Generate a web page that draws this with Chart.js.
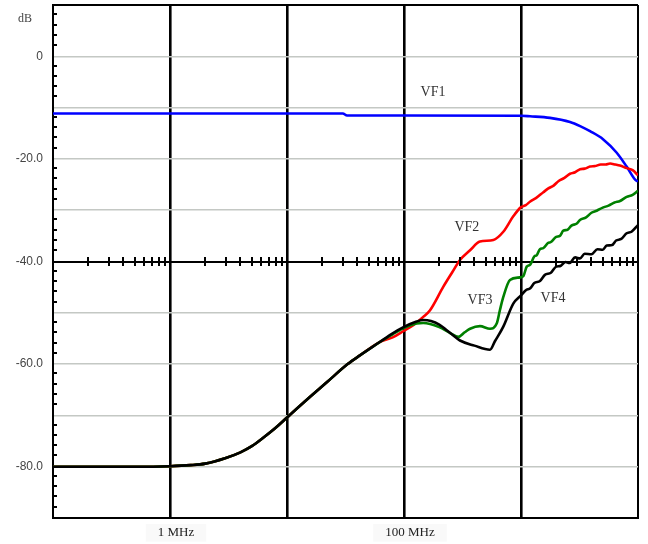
<!DOCTYPE html>
<html>
<head>
<meta charset="utf-8">
<script src="https://cdn.jsdelivr.net/npm/chart.js@4.4.1/dist/chart.umd.min.js"></script>
<style>
  html, body { margin: 0; padding: 0; background: #fff; }
  #wrap { width: 648px; height: 544px; position: relative; }
</style>
</head>
<body>
<div id="wrap"><canvas id="vfChart"></canvas></div>
<script>
// --- 데이터 (주파수 MHz / 감쇠 dB) ---
// 세 곡선(VF2~VF4)이 겹치는 저주파 구간
const lowFreq = [0.1, 0.5, 1.0, 1.5, 2.0, 3.0, 4.0, 5.0, 6.3, 8.0, 10, 15, 22, 33, 42, 62];
const lowDb   = [-80.0, -80.0, -79.9, -79.7, -79.4, -78.3, -77.2, -76.0, -74.3, -72.4, -70.4, -66.8, -63.5, -60.0, -58.3, -55.7];

const vf1Freq = [0.1, 1, 10, 30, 32.6, 100, 1000, 1194, 1770, 2624, 3200, 3890, 5050, 6580, 8000, 9500, 10000];
const vf1Db   = [-11.15, -11.15, -11.15, -11.15, -11.54, -11.54, -11.6, -11.7, -12.0, -12.8, -13.6, -14.6, -16.2, -18.8, -21.5, -24.1, -24.4];

const vf2Freq = [80, 100, 120, 146, 167, 217, 260, 301, 367, 446, 580, 706, 859, 1000, 1100, 1200, 1350, 1552, 1700, 1900, 2100, 2350, 2624, 2900, 3200, 3500, 3890, 4300, 4800, 5300, 5766, 6400, 7000, 8000, 9000, 10000];
const vf2Db   = [-54.8, -53.5, -52.4, -50.8, -49.5, -44.9, -42.0, -39.7, -37.8, -36.1, -35.8, -34.2, -31.2, -29.4, -29.0, -28.3, -27.6, -26.5, -25.8, -25.2, -24.3, -23.7, -22.9, -22.6, -22.0, -21.9, -21.5, -21.4, -21.1, -21.1, -20.9, -21.1, -21.3, -21.8, -22.2, -23.2];

const vf3Freq = [80, 99, 128, 146, 200, 250, 291, 330, 367, 446, 543, 620, 660, 706, 805, 980, 1050, 1119, 1200, 1300, 1361, 1450, 1550, 1700, 1800, 2000, 2150, 2300, 2500, 2700, 3000, 3192, 3600, 4000, 4437, 5000, 5600, 6300, 7017, 8000, 9000, 10000];
const vf3Db   = [-54.2, -53.0, -52.1, -52.0, -52.8, -54.0, -54.7, -53.8, -53.1, -52.6, -53.1, -52.1, -49.5, -46.9, -43.6, -43.1, -42.8, -41.0, -40.6, -39.0, -38.8, -37.6, -37.4, -36.4, -36.2, -35.2, -35.0, -34.0, -33.8, -33.0, -32.6, -31.9, -31.4, -30.5, -30.1, -29.5, -29.1, -28.5, -28.2, -27.4, -27.0, -26.2];

const vf4Freq = [80, 99, 128, 146, 170, 200, 250, 301, 400, 543, 600, 706, 859, 1000, 1100, 1200, 1300, 1452, 1600, 1800, 2000, 2154, 2400, 2600, 2900, 3192, 3500, 4000, 4500, 5000, 5400, 6000, 6500, 7200, 8000, 8800, 10000];
const vf4Db   = [-54.0, -52.8, -51.7, -51.4, -51.6, -52.3, -54.0, -55.4, -56.4, -57.2, -55.5, -52.7, -48.2, -46.6, -45.6, -45.2, -44.2, -43.8, -42.6, -42.2, -41.0, -40.9, -40.1, -40.3, -39.2, -39.4, -38.5, -38.6, -37.6, -37.7, -36.9, -36.8, -35.9, -35.6, -34.5, -34.2, -32.9];

// 곡선 이름 위치 (MHz, dB)
const curveLabels = [
    { text: "VF1", x: 177, y: -7.0 },
    { text: "VF2", x: 345, y: -33.3 },
    { text: "VF3", x: 446, y: -47.5 },
    { text: "VF4", x: 1879, y: -47.1 }
];

const yTickLabels = { "0": "0", "-20": "-20.0", "-40": "-40.0", "-60": "-60.0", "-80": "-80.0" };
const xTickLabels = { "1": "1 MHz", "100": "100 MHz" };
const decades = [0.1, 1, 10, 100, 1000, 10000];

// --- 헬퍼 ---
function toPoints(freq, db) {
    return freq.map((f, i) => ({ x: f, y: db[i] }));
}

// 저주파 공통 구간 + 개별 구간
function withLow(freq, db) {
    return toPoints(lowFreq, lowDb).concat(toPoints(freq, db));
}

// 보조 눈금, 곡선 이름, dB 표시
const overlay = {
    id: 'overlay',
    afterDatasetsDraw(chart) {
        const ctx = chart.ctx;
        const xs = chart.scales.x;
        const ys = chart.scales.y;
        const area = chart.chartArea;
        ctx.save();
        ctx.fillStyle = '#000';
        // 왼쪽 축 보조 눈금 (2 dB)
        for (let v = -88; v < 10; v += 2) {
            if (v % 10 === 0) continue;
            const py = Math.round(ys.getPixelForValue(v));
            ctx.fillRect(area.left, py - 2, 4, 2);
        }
        // -40 dB 축 위 로그 눈금
        const axisY = ys.getPixelForValue(-40);
        for (let d = 0; d < decades.length - 1; d++) {
            for (let m = 2; m <= 9; m++) {
                const px = Math.round(xs.getPixelForValue(decades[d] * m));
                ctx.fillRect(px - 1, axisY - 4.5, 2, 9);
            }
        }
        // 곡선 이름
        ctx.font = '14px "Liberation Serif"';
        ctx.fillStyle = '#333';
        ctx.textAlign = 'center';
        ctx.textBaseline = 'middle';
        curveLabels.forEach(l => {
            ctx.fillText(l.text, xs.getPixelForValue(l.x), ys.getPixelForValue(l.y));
        });
        // 단위
        ctx.font = '12px "Liberation Serif"';
        ctx.fillStyle = '#444';
        ctx.textAlign = 'left';
        ctx.fillText('dB', 18, 19);
        ctx.restore();
    }
};

function line(data, color) {
    return {
        data: data,
        borderColor: color,
        borderWidth: 2.6,
        pointRadius: 0,
        fill: false,
        cubicInterpolationMode: 'monotone'
    };
}

// --- 차트 렌더링 ---
function renderChart() {
    const ctx = document.getElementById('vfChart').getContext('2d');
    new Chart(ctx, {
        type: 'line',
        data: {
            datasets: [
                line(withLow(vf4Freq, vf4Db), '#000000'),
                line(withLow(vf3Freq, vf3Db), '#008000'),
                line(withLow(vf2Freq, vf2Db), '#ff0000'),
                line(toPoints(vf1Freq, vf1Db), '#0000ff')
            ]
        },
        options: {
            responsive: true,
            maintainAspectRatio: false,
            animation: false,
            layout: { padding: { top: 5, right: 10, left: 0, bottom: 0 } },
            plugins: {
                legend: { display: false },
                tooltip: { enabled: false }
            },
            scales: {
                x: {
                    type: 'logarithmic',
                    min: 0.1,
                    max: 10000,
                    afterBuildTicks: scale => {
                        scale.ticks = decades.map(v => ({ value: v }));
                    },
                    afterFit: scale => {
                        scale.height = 26;
                        scale.paddingLeft = 0;
                        scale.paddingRight = 0;
                    },
                    border: { display: true, color: '#000', width: 2 },
                    grid: {
                        drawTicks: false,
                        color: '#000',
                        lineWidth: c => (c.tick && (c.tick.value === 0.1 || c.tick.value === 10000)) ? 2 : 2.6
                    },
                    ticks: {
                        autoSkip: false,
                        maxRotation: 0,
                        padding: 7,
                        labelOffset: 6,
                        color: '#222',
                        font: { family: 'Liberation Serif', size: 13 },
                        showLabelBackdrop: true,
                        backdropColor: c => (c.tick && xTickLabels[String(c.tick.value)]) ? '#f9f9f9' : 'rgba(255,255,255,0)',
                        backdropPadding: { top: 1, bottom: 1, left: 12, right: 12 },
                        callback: v => xTickLabels[String(v)] || ''
                    }
                },
                y: {
                    min: -90,
                    max: 10,
                    afterFit: scale => {
                        scale.width = 53;
                        scale.paddingTop = 0;
                        scale.paddingBottom = 0;
                    },
                    border: { display: true, color: '#000', width: 2 },
                    grid: {
                        drawTicks: false,
                        color: c => {
                            const v = c.tick ? c.tick.value : 0;
                            return (v === -40 || v === 10 || v === -90) ? '#000' : '#c4c8c4';
                        },
                        lineWidth: c => {
                            const v = c.tick ? c.tick.value : 0;
                            return (v === -40 || v === 10) ? 2 : 1.5;
                        }
                    },
                    ticks: {
                        stepSize: 10,
                        padding: 10,
                        color: '#444',
                        font: { family: 'Liberation Sans', size: 12 },
                        callback: v => yTickLabels[String(v)] || ''
                    }
                }
            }
        },
        plugins: [overlay]
    });
}

document.addEventListener('DOMContentLoaded', renderChart);
</script>
</body>
</html>
